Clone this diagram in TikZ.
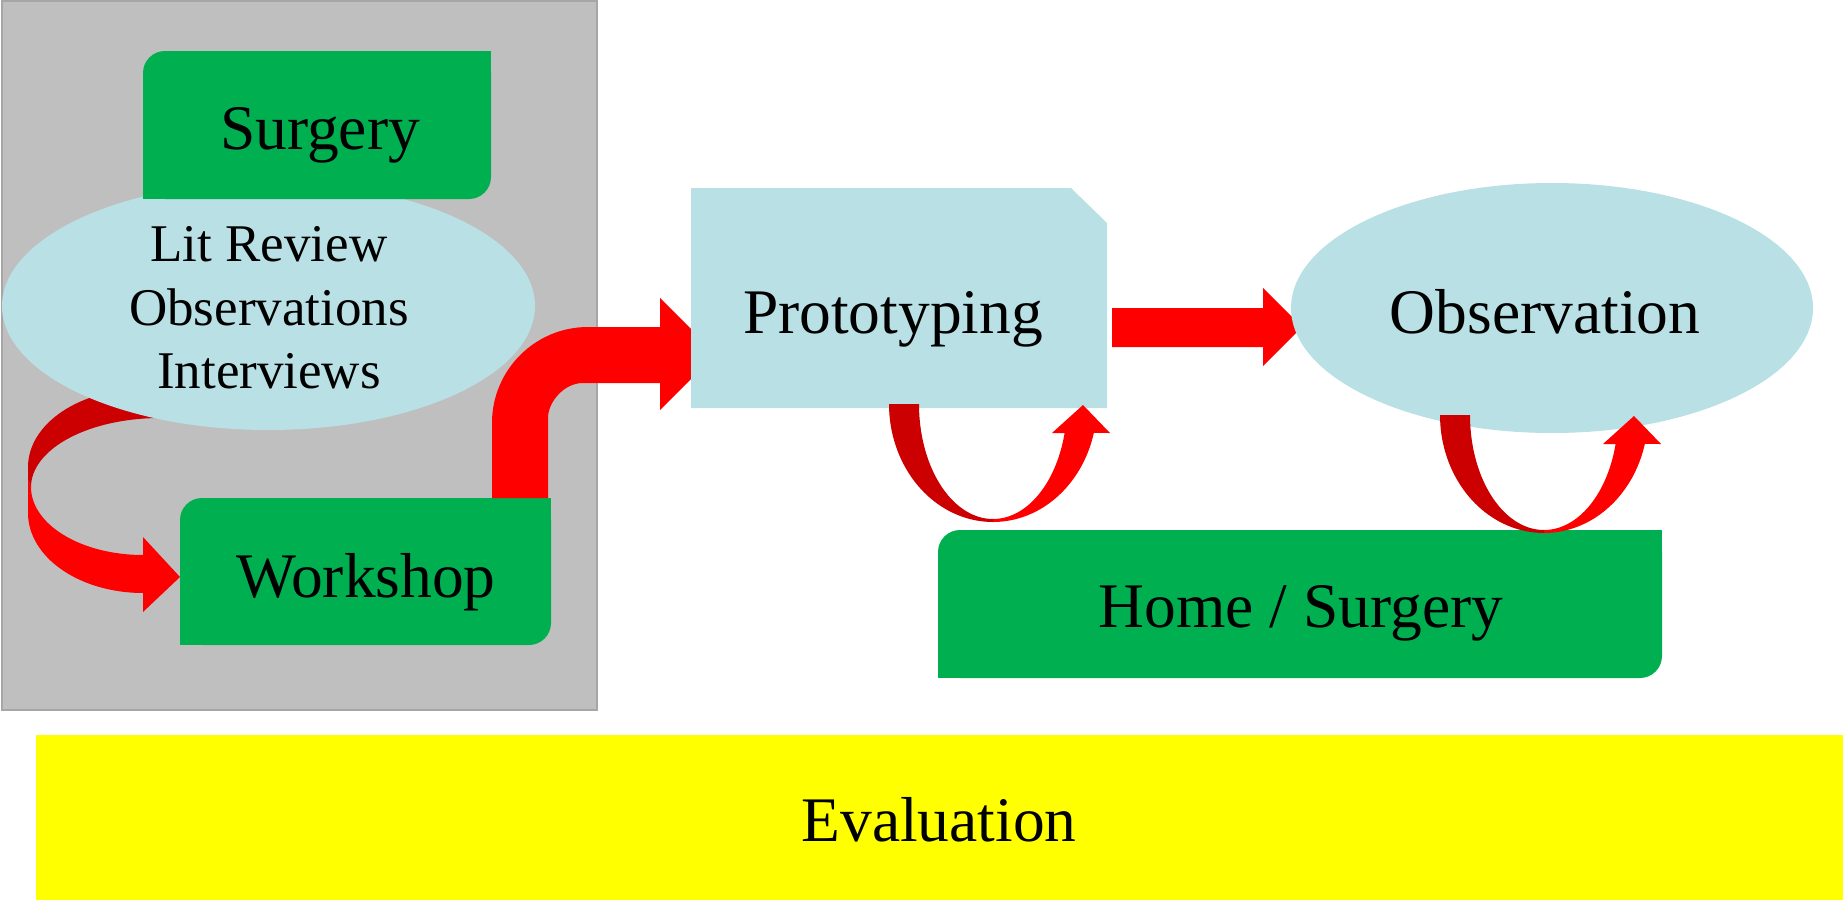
\documentclass[tikz,border=0pt]{standalone}
\usepackage{fontspec}
\setmainfont{Liberation Serif}
\definecolor{panelgray}{RGB}{191,191,191}
\definecolor{panelline}{RGB}{166,166,166}
\definecolor{boxgreen}{RGB}{0,176,80}
\definecolor{paleblue}{RGB}{185,224,228}
\definecolor{arrowred}{RGB}{255,0,0}
\definecolor{arrowdark}{RGB}{204,0,0}
\definecolor{evalyellow}{RGB}{255,255,0}
\newcommand\fbig{\fontsize{31.75pt}{38pt}\selectfont}
\newcommand\fmid{\fontsize{26.5pt}{31.8pt}\selectfont}
\newcommand\greenbox[4]{%
  \fill[boxgreen, rounded corners=11pt] (#1,#2) rectangle (#3,#4);
  \fill[boxgreen] ({#3-30},#2) rectangle (#3,{#2+30});
  \fill[boxgreen] (#1,{#4-30}) rectangle ({#1+30},#4);}
\tikzset{
  lbl/.style={inner sep=0pt, anchor=base, font=\fbig},
  lblmid/.style={inner sep=0pt, anchor=base, font=\fmid},
  uturn/.pic={
    \fill[arrowdark] plot[domain=180:90, samples=40, variable=\t] ({104*cos(\t)},{118*sin(\t)})
       -- plot[domain=90:180, samples=40, variable=\t] ({74*cos(\t)},{115*sin(\t)}) -- cycle;
    \fill[arrowred] plot[domain=90:14.2, samples=40, variable=\t] ({104*cos(\t)},{118*sin(\t)})
       -- (117,29) -- (90,1) -- (59,29) -- (72,29)
       -- plot[domain=14.6:90, samples=40, variable=\t] ({74*cos(\t)},{115*sin(\t)}) -- cycle;
  }
}
\begin{document}
\begin{tikzpicture}[x=0.5pt,y=-0.5pt]
\useasboundingbox (0,0) rectangle (1843,900);
% grey panel
\filldraw[fill=panelgray, draw=panelline, line width=1pt] (2,1) rectangle (597,710);
% back (dark) part of curved arrow
\fill[arrowdark] (31,487) -- (28,480)
   -- plot[domain=180:290, samples=40, variable=\t] ({143+115*cos(\t)},{467+78*sin(\t)})
   -- plot[domain=285:180, samples=40, variable=\t] ({160+129*cos(\t)},{487+69*sin(\t)}) -- cycle;
% Lit review ellipse
\fill[paleblue] (268.5,306) ellipse [x radius=133.25pt, y radius=62pt];
\node[lblmid] (lit1) at (269,261) {Lit Review};
\node[lblmid] (lit2) at (269,325) {Observations};
\node[lblmid] (lit3) at (269,388) {Interviews};
% Surgery
\greenbox{143}{51}{491}{199}
\node[lbl] (surgery) at (320,149) {Surgery};
% front part of curved arrow
\fill[arrowred] (28,480) -- (28,513)
   -- plot[domain=180:90, samples=40, variable=\t] ({143+115*cos(\t)},{513+80*sin(\t)})
   -- (143,612) -- (180,577) -- (143,537) -- (143,555)
   -- plot[domain=90:180, samples=40, variable=\t] ({143+112*cos(\t)},{487+68*sin(\t)}) -- cycle;
% Workshop
\greenbox{180}{498}{551}{645}
\node[lbl] (workshop) at (366,597) {Workshop};
% bent arrow
\fill[arrowred] (492,498) -- (492,423) .. controls (492,370) and (535,327) .. (588,327)
   -- (660,327) -- (660,298) -- (716,354) -- (660,410) -- (660,383) -- (583,383)
   .. controls (564,383) and (548,402) .. (548,418) -- (548,498) -- cycle;
% Prototyping
\fill[paleblue] (691,188) -- (1071,188) -- (1107,223) -- (1107,408) -- (691,408) -- cycle;
\node[lbl] (proto) at (893,333) {Prototyping};
% straight arrow
\fill[arrowred] (1112,308) -- (1263,308) -- (1263,288) -- (1302,327) -- (1263,366) -- (1263,347) -- (1112,347) -- cycle;
% Observation
\fill[paleblue] (1552,308) ellipse [x radius=130.5pt, y radius=62.5pt];
\node[lbl] (obs) at (1545,333) {Observation};
% Home / Surgery
\greenbox{938}{530}{1662}{678}
\node[lbl] (home) at (1301,627) {Home / Surgery};
% loop arrows
\pic at (993,404) {uturn};
\pic at (1544,415) {uturn};
% Evaluation
\fill[evalyellow] (36,735) rectangle (1843,900);
\node[lbl] (eval) at (939,841) {Evaluation};
\end{tikzpicture}
\end{document}
